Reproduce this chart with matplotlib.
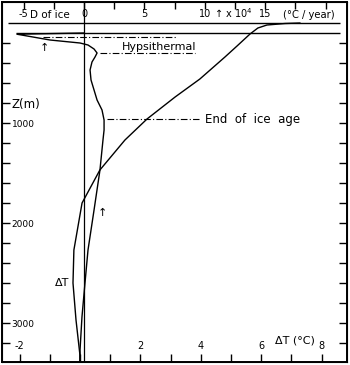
import numpy as np
import matplotlib.pyplot as plt

# Temperature change dT (deg C) vs depth Z (m), bottom scale
dT_depth = [0, 5, 20, 50, 110, 230, 340, 560, 740, 960, 1170, 1470, 1800, 2270, 2600, 2970, 3320, 3390]
dT_val = [7.28, 6.79, 6.19, 5.89, 5.63, 5.2, 4.8, 3.97, 3.15, 2.22, 1.49, 0.66, 0.07, -0.2, -0.23, -0.13, 0.0, 0.0]

# rate of change (x 10^-4 deg C / year) vs depth, top scale
rate_depth = [100, 112, 170, 200, 220, 260, 300, 340, 390, 470, 570, 670, 770, 870, 970,
              1070, 1170, 1470, 1870, 2270, 2600, 2940, 3270, 3390]
rate_val = [0.0, -5.55, -2.81, -0.33, 0.33, 0.83, 1.08, 0.91, 0.66, 0.5, 0.58, 0.83, 1.08, 1.49, 1.66,
            1.66, 1.57, 1.32, 0.83, 0.33, 0.08, -0.17, -0.33, -0.33]

bottom_ticks = [-2, -1, 0, 1, 2, 3, 4, 5, 6, 7, 8]
bottom_labels = ['-2', '', '', '', '2', '', '4', '', '6', '', '8']
top_ticks = [-5, -2.5, 0, 2.5, 5, 7.5, 10, 12.5, 15, 17.5, 20]
top_labels = ['-5', '', '0', '', '5', '', '10', '', '15', '', '']
depth_ticks = list(range(200, 3400, 200))
depth_labels = ['', '', '', 'Z(m)', '1000', '', '', '', '', '2000', '', '', '', '', '3000', '']

fig = plt.figure(figsize=(3.5, 3.65), dpi=100)
ax = fig.add_axes([0.0057, 0.0082, 0.9857, 0.9863])
ax.set_xlim(-2.58, 8.84)
ax.set_ylim(3390, -210)
ax2 = ax.twiny()
ax2.set_xlim(-6.79, 21.77)

lw = 1.0
ax.plot(dT_val, dT_depth, color='black', lw=lw)
ax2.plot(rate_val, rate_depth, color='black', lw=lw)
ax2.axvline(0, color='black', lw=0.9)

# surface lines
ax.hlines([0], -2.38, 8.62, color='black', lw=1.0)
ax.hlines([100], -2.1, 8.62, color='black', lw=1.0)

# dash-dot markers
dd = dict(color='black', lw=0.8, linestyles=(0, (6, 2, 1, 2)))
ax.hlines([140], -1.22, 3.2, **dd)
ax.hlines([300], 0.66, 3.8, **dd)
ax.hlines([960], 0.9, 3.95, **dd)

fs = 8
ax.text(1.4, 240, 'Hypsithermal', fontsize=fs, va='center', ha='left')
ax.text(4.15, 960, 'End  of  ice  age', fontsize=8.5, va='center', ha='left')
ax.text(-0.82, 2600, '\u0394T', fontsize=fs, va='center', ha='left')
ax.text(6.45, 3170, '\u0394T (\u00b0C)', fontsize=fs, va='center', ha='left')
ax.text(-1.65, -80, 'D of ice', fontsize=7.5, va='center', ha='left')
ax.text(4.45, -100, '\u2191 x 10$^4$', fontsize=7, va='center', ha='left')
ax.text(6.72, -80, '(\u00b0C / year)', fontsize=7.2, va='center', ha='left')
ax.text(-1.17, 250, '\u2191', fontsize=fs, va='center', ha='center')
ax.text(0.73, 1900, '\u2191', fontsize=fs, va='center', ha='center')

# ticks inside the frame
ax.set_xticks(bottom_ticks)
ax.set_xticklabels(bottom_labels, fontsize=7)
ax.tick_params(axis='x', direction='in', length=6, width=1, pad=-8)
for t in ax.get_xticklabels():
    t.set_va('bottom')

ax.set_yticks(depth_ticks)
ax.set_yticklabels(depth_labels, fontsize=6.5)
ax.tick_params(axis='y', direction='in', length=6, width=1, pad=-7, right=True)
for t in ax.get_yticklabels():
    t.set_ha('left')
    if t.get_text() == 'Z(m)':
        t.set_fontsize(8.5)

ax2.set_xticks(top_ticks)
ax2.set_xticklabels(top_labels, fontsize=7)
ax2.tick_params(axis='x', direction='in', length=5, width=1, pad=-5)
for t in ax2.get_xticklabels():
    t.set_va('top')

for s in ax.spines.values():
    s.set_linewidth(1.4)

fig.savefig('out.png', dpi=100)
